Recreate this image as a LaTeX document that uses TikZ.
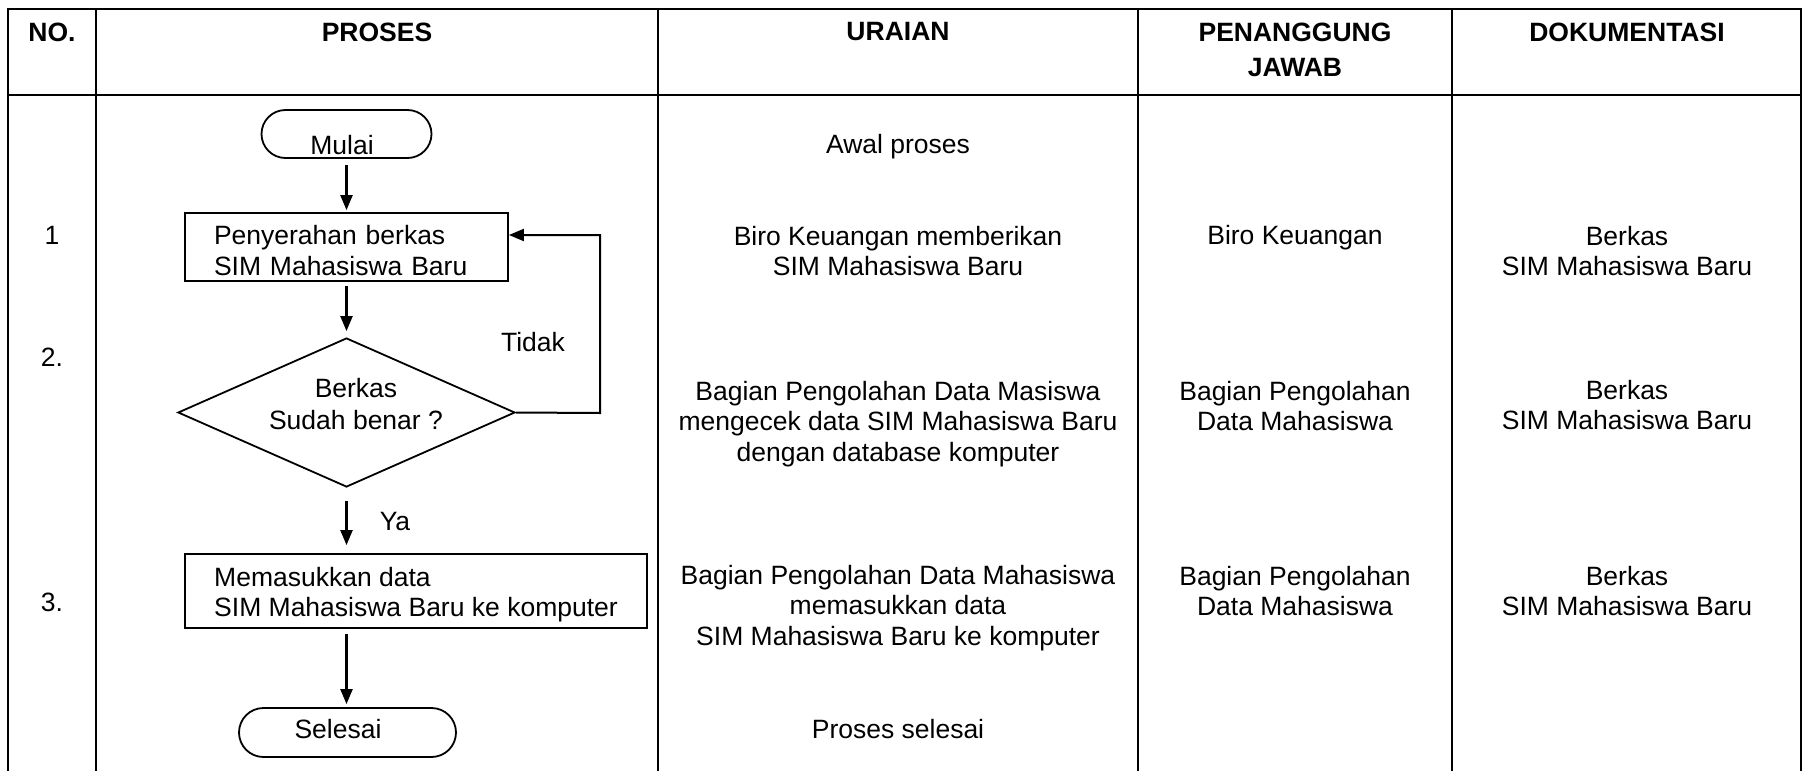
\documentclass[tikz,border=0pt]{standalone}
\usepackage{fontspec}
\setmainfont{Liberation Sans}
\usetikzlibrary{arrows.meta,shapes.misc,shapes.geometric}
\begin{document}
\begin{tikzpicture}[x=1pt,y=-1pt,
  every node/.style={font=\fontsize{26.5}{30.5}\selectfont, inner sep=0pt},
  hdr/.style={font=\fontsize{26.5}{35}\selectfont\bfseries, align=center},
  txt/.style={align=center},
  tline/.style={line width=2.8pt},
  shp/.style={draw, line width=1.8pt},
  term/.style={shp, rounded rectangle},
  procbox/.style={shp, rectangle, align=left, inner xsep=29pt, inner ysep=0pt},
  arr/.style={line width=2.2pt, -{Triangle[length=15pt,width=12pt]}},
]
\useasboundingbox (0,0) rectangle (1807,771);

% table grid
\draw[tline, line join=miter] (8,771) -- (8,9) -- (1801,9) -- (1801,771);
\draw[tline] (8,95) -- (1801,95);
\foreach \x in {96,658,1138,1452} \draw[tline] (\x,9) -- (\x,771);

% headers
\node[hdr] (hNo) at (52,32) {NO.};
\node[hdr] (hPro) at (377,32) {PROSES};
\node[hdr] (hUr) at (898,32) {URAIAN};
\node[hdr] (hPj) at (1295,50) {PENANGGUNG\\JAWAB};
\node[hdr] (hDok) at (1627,32) {DOKUMENTASI};

% row numbers
\node (n1) at (52,235) {1};
\node (n2) at (52,357) {2.};
\node (n3) at (52,602) {3.};

% flowchart
\node[term, minimum width=170pt, minimum height=48pt] (mulai) at (346.5,134) {};
\node (mulaiT) at (342,145) {Mulai};
\node[procbox, text width=265pt, minimum height=68pt] (box1) at (346.5,247) {\rule{0pt}{26pt}Penyerahan berkas\\SIM Mahasiswa Baru};
\node[shp, diamond, aspect=2.26, minimum width=337pt, minimum height=149pt] (dia) at (346.5,412.5) {};
\node[txt, font=\fontsize{26.5}{32}\selectfont] (diaT) at (356,404) {Berkas\\Sudah benar ?};
\node[procbox, minimum width=462pt, minimum height=74pt] (box3) at (416,591) {\rule{0pt}{26pt}Memasukkan data\\SIM Mahasiswa Baru ke komputer};
\node[term, minimum width=217pt, minimum height=49pt] (selesai) at (347.5,732.5) {};
\node (selesaiT) at (338,729) {Selesai};

\node (tidak) at (533,342) {Tidak};
\node (ya) at (395,522) {Ya};

\draw[arr, shorten <=6pt, shorten >=2pt] (mulai.south) -- (box1.north);
\draw[arr, shorten <=4pt, shorten >=6pt] (box1.south) -- (dia.north);
\draw[arr, shorten <=13pt, shorten >=8pt] (dia.south) -- (dia.south |- box3.north);
\draw[arr, shorten <=5pt, shorten >=3pt] (box3.south -| dia.south) -- (selesai.north -| dia.south);

\coordinate (fbA) at (600,413);
\coordinate (fbB) at (600,235);
\draw[arr, line width=2pt] (dia.east) -- (fbA) -- (fbB) -- (box1.east |- fbB);

% uraian
\node[txt] (u0) at (898,147) {Awal proses};
\node[txt] (u1) at (898,251) {Biro Keuangan memberikan\\SIM Mahasiswa Baru};
\node[txt] (u2) at (898,424) {Bagian Pengolahan Data Masiswa\\mengecek data SIM Mahasiswa Baru\\dengan database komputer};
\node[txt] (u3) at (898,608) {Bagian Pengolahan Data Mahasiswa\\memasukkan data\\SIM Mahasiswa Baru ke komputer};
\node[txt] (u4) at (898,729) {Proses selesai};

% penanggung jawab
\node[txt] (p1) at (1295,238) {Biro Keuangan};
\node[txt] (p2) at (1295,406) {Bagian Pengolahan\\Data Mahasiswa};
\node[txt] (p3) at (1295,591) {Bagian Pengolahan\\Data Mahasiswa};

% dokumentasi
\node[txt] (d1) at (1627,251) {Berkas\\SIM Mahasiswa Baru};
\node[txt] (d2) at (1627,405) {Berkas\\SIM Mahasiswa Baru};
\node[txt] (d3) at (1627,591) {Berkas\\SIM Mahasiswa Baru};
\end{tikzpicture}
\end{document}
